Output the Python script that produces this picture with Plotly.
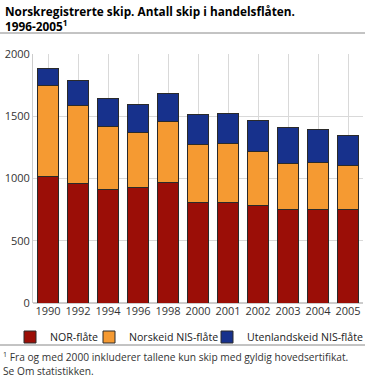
import plotly.graph_objects as go

years = ["1990", "1992", "1994", "1996", "1998", "2000", "2001", "2002", "2003", "2004", "2005"]
nor_flate = [1020, 960, 915, 930, 970, 810, 810, 780, 750, 750, 755]
norskeid_nis = [730, 630, 505, 437, 488, 464, 469, 436, 371, 382, 353]
utenlandskeid_nis = [135, 200, 220, 226, 221, 242, 245, 252, 292, 265, 234]
y_ticks = [0, 500, 1000, 1500, 2000]

W, H = 365, 378
L, R, T, B = 33, 2, 54, 75
PH = H - T - B
PW = W - L - R

def py(y):
    return (H - B - y) / PH

def px(x):
    return (x - L) / PW

FONT = "Open Sans"
fig = go.Figure()
series = [
    ("NOR-flåte", nor_flate, "#9b0e07", "legend", 10),
    ("Norskeid NIS-flåte", norskeid_nis, "#f59a32", "legend2", 89),
    ("Utenlandskeid NIS-flåte", utenlandskeid_nis, "#17318c", "legend3", 207),
]
legends = {}
for name, vals, col, lg, lx in series:
    fig.add_trace(go.Bar(
        x=years, y=vals, name=name, legend=lg,
        marker=dict(color=col, line=dict(color="#2a2a2a", width=1)),
        width=0.73,
    ))
    legends[lg] = dict(orientation="h", x=lx / W, xref="container", xanchor="left",
                       y=1 - 337 / H, yref="container", yanchor="middle",
                       font=dict(family=FONT, size=10.6, color="#222222"), itemwidth=30,
                       bgcolor="rgba(0,0,0,0)", borderwidth=0)

fig.update_layout(
    width=W, height=H,
    margin=dict(l=L, r=R, t=T, b=B),
    barmode="stack",
    paper_bgcolor="white", plot_bgcolor="white",
    font=dict(family=FONT, size=11, color="#333333"),
    showlegend=True,
    xaxis=dict(type="category", showgrid=True, gridcolor="#d9d9d9", gridwidth=1,
               ticks="", showline=False, tickfont=dict(size=11, color="#333333"),
               range=[-0.5, 10.5], tickangle=0, automargin=False),
    yaxis=dict(range=[0, 2000], tickvals=y_ticks, showgrid=True, gridcolor="#d9d9d9",
               gridwidth=1, showline=True, linecolor="#cccccc", linewidth=1,
               ticks="", ticklen=0, zeroline=True, zerolinecolor="#cccccc",
               tickfont=dict(size=11, color="#333333"), automargin=False),
    bargap=0.27,
    **legends,
)

fig.add_annotation(xref="paper", yref="paper", x=px(3), y=py(11), xanchor="left", yanchor="middle",
                   text="<b>Norskregistrerte skip. Antall skip i handelsflåten.</b>",
                   showarrow=False, align="left",
                   font=dict(family=FONT, size=11.8, color="#000000"))
fig.add_annotation(xref="paper", yref="paper", x=px(3), y=py(25), xanchor="left", yanchor="middle",
                   text="<b>1996-2005<sup>1</sup></b>",
                   showarrow=False, align="left",
                   font=dict(family=FONT, size=11.8, color="#000000"))
fig.add_shape(type="line", xref="paper", yref="paper", x0=px(0), x1=px(365), y0=py(33), y1=py(33),
              line=dict(color="#888888", width=1))
fig.add_shape(type="line", xref="paper", yref="paper", x0=px(0), x1=px(365), y0=py(345), y1=py(345),
              line=dict(color="#888888", width=1))
fig.add_annotation(xref="paper", yref="paper", x=px(1), y=py(347), xanchor="left", yanchor="top",
                   text="<sup>1</sup> Fra og med 2000 inkluderer tallene kun skip med gyldig hovedsertifikat.<br>Se Om statistikken.",
                   showarrow=False, align="left",
                   font=dict(family=FONT, size=10.2, color="#333333"))

fig.write_html("out.html", config={"displayModeBar": False},
               post_script="document.body.style.margin='0px';")
